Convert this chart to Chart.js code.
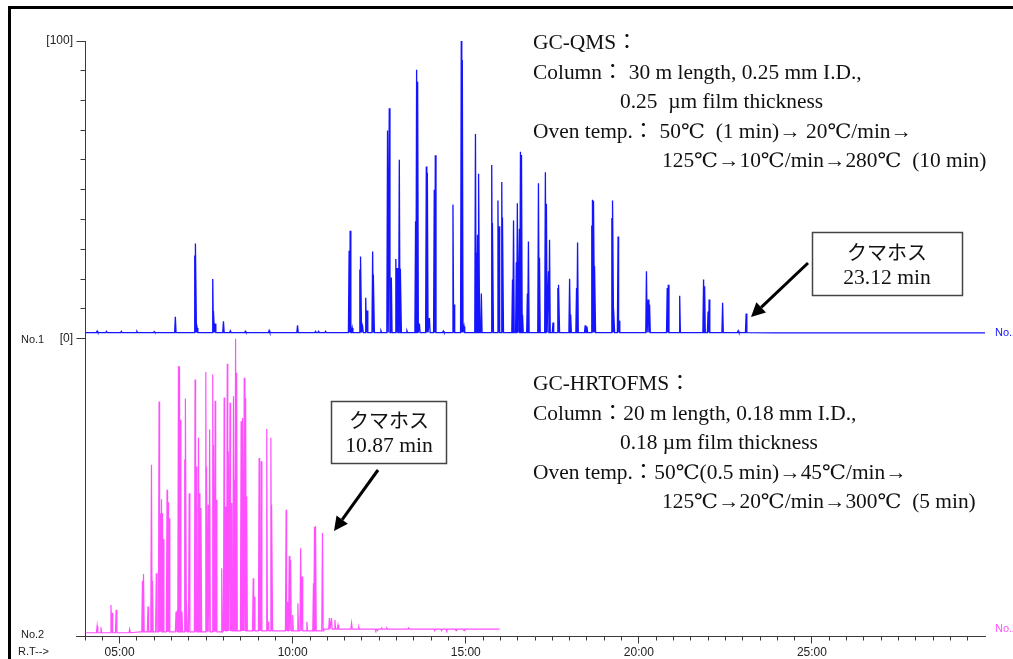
<!DOCTYPE html>
<html><head><meta charset="utf-8">
<script src="https://cdn.jsdelivr.net/npm/chart.js@4.4.1/dist/chart.umd.min.js"></script>
<style>html,body{margin:0;padding:0;background:#fff;overflow:hidden}canvas{display:block}</style>
</head><body>
<canvas id="c" width="1013" height="659"></canvas>
<script>
// ---------------- data (retention time in min, relative intensity %) ----------------
const xMajorTicks = [5, 10, 15, 20, 25];
const xTickLabels = ['05:00', '10:00', '15:00', '20:00', '25:00'];
const yTickValues = [0, 100];
const yTickLabels = ['[0]', '[100]'];
const seriesNames = ['No.1', 'No.2'];
const axisTitle = 'R.T-->';

// GC-QMS (No.1, blue)
const blueBaseTimes  = [4.02, 11.5, 24.0, 30.0];
const blueBaseLevels = [2.0, 2.0, 1.9, 1.9];
const bluePeakTimes = [4.35, 4.62, 5.05, 5.5, 6.0, 6.61, 7.17, 7.20, 7.24, 7.69, 7.72, 7.76,
  8.00, 8.20, 8.63, 9.32, 10.14, 10.66, 10.75, 10.95,
  11.63, 11.66, 11.72, 11.94, 11.97, 12.02, 12.11, 12.15, 12.31, 12.34, 12.55,
  12.74, 12.79, 12.85, 12.98, 13.02, 13.08, 13.12, 13.30, 13.55, 13.58, 13.61, 13.66,
  13.86, 13.89, 13.95, 14.09, 14.12, 14.35, 14.63, 14.66, 14.87, 14.90, 14.95,
  15.28, 15.31, 15.34, 15.38, 15.45, 15.75, 15.78, 15.93, 15.96, 16.04, 16.07,
  16.35, 16.38, 16.46, 16.49, 16.55, 16.57, 16.58, 16.61, 16.64, 16.78, 16.81,
  17.10, 17.13, 17.30, 17.33, 17.39, 17.42, 17.52, 17.66, 17.69, 18.00, 18.03,
  18.20, 18.23, 18.45, 18.50, 18.64, 18.67, 18.70, 18.73, 19.22, 19.25, 19.28,
  19.40, 19.43, 20.22, 20.27, 20.31, 20.82, 20.85, 21.18, 21.87, 21.90, 22.00, 22.03,
  22.42, 22.87, 23.10];
const bluePeakHeights = [2.5, 2.4, 2.4, 2.4, 2.3, 7.3, 27.9, 31.9, 3.5, 20.0, 9.2, 5.0,
  5.8, 2.6, 2.4, 2.7, 4.4, 2.4, 2.4, 2.4,
  29.5, 36.2, 3.5, 23.2, 27.6, 4.0, 13.7, 9.4, 29.2, 21.5, 2.6,
  69.9, 77.4, 20.5, 26.7, 23.7, 60.1, 23.4, 2.6, 39.4, 90.3, 86.3, 5.0,
  57.8, 55.7, 6.9, 50.0, 61.6, 2.5, 45.0, 11.4, 100, 93.6, 4.0,
  68.7, 28.8, 34.9, 55.4, 15.1, 58.3, 38.8, 46.4, 37.7, 52.6, 40.7,
  19.8, 39.7, 25.6, 45.5, 36.9, 27.6, 62.8, 61.7, 8.0, 15.1, 32.6,
  52.2, 27.1, 55.9, 45.3, 22.6, 33.2, 5.4, 17.0, 18.1, 20.1, 8.1,
  17.0, 32.3, 4.4, 4.0, 38.0, 46.6, 46.3, 24.3, 40.5, 46.4, 10.0,
  34.3, 6.0, 22.6, 13.1, 11.4, 17.0, 18.1, 14.4, 19.8, 17.6, 9.1, 13.1,
  12.0, 2.6, 8.4];

// GC-HRTOFMS (No.2, pink)
const pinkBaseTimes  = [4.02, 5.6, 8.0, 10.9, 15.98];
const pinkBaseLevels = [1.1, 1.4, 1.7, 2.3, 2.3];
const pinkPeakTimes = [4.35, 4.46, 4.75, 4.78, 4.90, 5.29, 5.66, 5.69, 5.82, 5.92, 5.95,
  6.06, 6.14, 6.17, 6.21, 6.24, 6.26, 6.37, 6.40, 6.43, 6.63, 6.67, 6.70, 6.73, 6.75,
  6.80, 6.88, 6.91, 6.94, 7.01, 7.18, 7.21, 7.28, 7.30, 7.35, 7.49, 7.52, 7.56, 7.60,
  7.69, 7.72, 7.76, 7.79, 7.95, 8.02, 8.05, 8.11, 8.14, 8.19, 8.22, 8.29, 8.32,
  8.35, 8.38, 8.51, 8.53, 8.56, 8.60, 8.64, 8.67, 8.86, 8.89, 9.03, 9.06, 9.09,
  9.25, 9.29, 9.37, 9.40, 9.81, 9.84, 9.90, 9.94, 10.00, 10.15, 10.23, 10.27, 10.41,
  10.60, 10.63, 10.66, 10.86, 11.06, 11.12, 11.22, 11.31, 11.70, 11.91,
  12.40, 12.45, 12.57, 12.72, 13.35, 14.10, 14.30, 14.45, 14.72, 14.95];
const pinkPeakHeights = [3.4, 2.9, 10.4, 7.8, 8.8, 2.3, 18.6, 20.8, 9.9, 57.6, 18.6,
  21.1, 78.8, 41.3, 46.0, 41.3, 32.6, 49.2, 45.0, 39.6, 8.2, 8.8, 90.7, 90.7, 72.7,
  8.2, 59.3, 79.8, 12.1, 48.0, 86.2, 57.0, 66.6, 48.0, 43.0, 88.7, 57.0, 44.1, 69.4,
  87.9, 64.3, 79.1, 45.8, 22.8, 80.2, 43.5, 91.5, 62.1, 78.4, 44.7, 80.6, 52.5,
  99.9, 88.5, 72.2, 24.5, 73.3, 86.8, 80.0, 46.9, 19.4, 13.2, 59.8, 11.1, 58.7,
  69.6, 4.8, 66.6, 44.1, 42.4, 11.5, 26.9, 25.6, 7.1, 11.0, 29.5, 20.0, 4.8,
  17.7, 36.6, 37.0, 34.6, 6.0, 6.0, 5.4, 3.7, 4.3, 3.0,
  1.8, 1.8, 2.7, 2.7, 2.7, 1.8, 1.8, 1.8, 1.8, 1.8];

// annotations
const qmsText = ['GC-QMS：', 'Column： 30 m length, 0.25 mm I.D.,', '0.25  µm film thickness',
  'Oven temp.： 50℃  (1 min)→ 20℃/min→', '125℃→10℃/min→280℃  (10 min)'];
const tofText = ['GC-HRTOFMS：', 'Column：20 m length, 0.18 mm I.D.,', '0.18 µm film thickness',
  'Oven temp.：50℃(0.5 min)→45℃/min→', '125℃→20℃/min→300℃  (5 min)'];
const compoundName = 'クマホス';
const qmsRT = 23.12;
const tofRT = 10.87;

// ---------------- build traces (spikes on a baseline) ----------------
function buildTrace(baseT, baseL, pkT, pkH) {
  const items = [];
  baseT.forEach((t, i) => items.push({ t, pts: [{ x: t, y: baseL[i] }] }));
  pkT.forEach((t, i) => {
    let lv = baseL[0];
    for (let k = 0; k < baseT.length; k++) if (baseT[k] <= t) lv = baseL[k];
    items.push({ t, pts: [{ x: t - 0.02, y: lv }, { x: t, y: pkH[i] }, { x: t + 0.02, y: lv }] });
  });
  items.sort((a, b) => a.t - b.t);
  return items.flatMap(it => it.pts);
}

const SANS = "'Liberation Sans', Arial, sans-serif";
const SERIF = "'Liberation Serif', 'DejaVu Serif', 'Noto Sans CJK JP', serif";
const JP = "'Noto Sans CJK JP', sans-serif";
const BLUE = '#1414ff';
const PINK = '#ff50ff';
const AXIS = '#3a3a3a';

function arrow(ctx, x1, y1, x2, y2) {
  const a = Math.atan2(y2 - y1, x2 - x1);
  const hl = 14, hw = 7;
  const bx = x2 - hl * Math.cos(a), by = y2 - hl * Math.sin(a);
  ctx.strokeStyle = '#000'; ctx.fillStyle = '#000'; ctx.lineWidth = 3;
  ctx.beginPath(); ctx.moveTo(x1, y1); ctx.lineTo(bx, by); ctx.stroke();
  ctx.beginPath(); ctx.moveTo(x2, y2);
  ctx.lineTo(bx + hw * Math.sin(a), by - hw * Math.cos(a));
  ctx.lineTo(bx - hw * Math.sin(a), by + hw * Math.cos(a));
  ctx.closePath(); ctx.fill();
}

function wideText(ctx, s, x, y, sx) {
  ctx.save(); ctx.translate(x, y); ctx.scale(sx, 1); ctx.fillText(s, 0, 0); ctx.restore();
}

const decor = {
  id: 'decor',
  afterDraw(chart) {
    const ctx = chart.ctx, xs = chart.scales.x, ys = chart.scales.y;
    ctx.save();
    // outer frame (left & top)
    ctx.fillStyle = '#000';
    ctx.fillRect(8, 6, 3, 653);
    ctx.fillRect(8, 6, 1005, 3);
    // x axis extension and tick marks
    ctx.strokeStyle = AXIS; ctx.lineWidth = 1;
    const ay = Math.round(xs.top - 0.5) + 0.5;
    ctx.beginPath(); ctx.moveTo(76, ay); ctx.lineTo(xs.left, ay); ctx.stroke();
    xs.ticks.forEach(t => {
      const px = Math.round(xs.getPixelForValue(t.value) - 0.5) + 0.5;
      const major = xMajorTicks.includes(t.value);
      ctx.beginPath(); ctx.moveTo(px, ay); ctx.lineTo(px, ay + (major ? 7 : 4)); ctx.stroke();
    });
    // y tick marks
    const ax = Math.round(ys.right - 0.5) + 0.5;
    ys.ticks.forEach(t => {
      const py = Math.round(ys.getPixelForValue(t.value) - 0.5) + 0.5;
      const major = yTickValues.includes(t.value);
      ctx.beginPath(); ctx.moveTo(ax - (major ? 9 : 5), py); ctx.lineTo(ax, py); ctx.stroke();
    });
    // side labels
    ctx.font = '11px ' + SANS; ctx.textBaseline = 'middle'; ctx.textAlign = 'left';
    ctx.fillStyle = '#222';
    ctx.fillText(seriesNames[0], 21, ys.getPixelForValue(0) + 1);
    ctx.fillText(seriesNames[1], 21, 635);
    ctx.fillText(axisTitle, 18, 652);
    ctx.fillStyle = BLUE;
    ctx.fillText(seriesNames[0], 995, ys.getPixelForValue(blueBaseLevels[blueBaseLevels.length - 1]));
    ctx.fillStyle = PINK;
    ctx.fillText(seriesNames[1], 995, chart.scales.y2.getPixelForValue(pinkBaseLevels[pinkBaseLevels.length - 1]));
    // method text blocks
    ctx.fillStyle = '#111'; ctx.font = '20px ' + SERIF;
    const indents = [533, 533, 620, 533, 662];
    qmsText.forEach((s, i) => wideText(ctx, s, indents[i], 44 + i * 29.5, 1.07));
    tofText.forEach((s, i) => wideText(ctx, s, indents[i], 385 + i * 29.5, 1.07));
    // compound boxes
    ctx.strokeStyle = '#444'; ctx.lineWidth = 1.5;
    ctx.strokeRect(812.5, 232.5, 150, 63);
    ctx.strokeRect(331.5, 401.5, 115, 62);
    ctx.textAlign = 'center'; ctx.fillStyle = '#111';
    ctx.font = '20px ' + JP;
    ctx.fillText(compoundName, 887, 252);
    ctx.fillText(compoundName, 389, 420);
    ctx.font = '20px ' + SERIF;
    wideText(ctx, qmsRT.toFixed(2) + ' min', 887, 279, 1.08);
    wideText(ctx, tofRT.toFixed(2) + ' min', 389, 447, 1.08);
    // arrows
    arrow(ctx, 808, 263, 751, 317);
    arrow(ctx, 378, 470, 334, 531);
    ctx.restore();
  }
};

new Chart(document.getElementById('c'), {
  type: 'line',
  data: {
    datasets: [
      { label: seriesNames[0], data: buildTrace(blueBaseTimes, blueBaseLevels, bluePeakTimes, bluePeakHeights),
        yAxisID: 'y', borderColor: BLUE, borderWidth: 1.3, pointRadius: 0, tension: 0, fill: false },
      { label: seriesNames[1], data: buildTrace(pinkBaseTimes, pinkBaseLevels, pinkPeakTimes, pinkPeakHeights),
        yAxisID: 'y2', borderColor: PINK, borderWidth: 1.2, pointRadius: 0, tension: 0, fill: false }
    ]
  },
  options: {
    responsive: false, animation: false, events: [],
    layout: { padding: { top: 41, right: 28, left: 0, bottom: 0 } },
    plugins: { legend: { display: false }, tooltip: { enabled: false } },
    scales: {
      x: {
        type: 'linear', min: 4, max: 30,
        grid: { display: false, drawTicks: false },
        border: { display: true, color: AXIS, width: 1 },
        ticks: {
          stepSize: 0.5, maxTicksLimit: 1000, autoSkip: false, maxRotation: 0, minRotation: 0,
          padding: 9, color: '#222', font: { family: SANS, size: 12 },
          callback: v => { const i = xMajorTicks.indexOf(v); return i >= 0 ? xTickLabels[i] : ''; }
        },
        afterBuildTicks: s => { s.ticks = s.ticks.filter(t => t.value < 30); },
        afterFit: s => { s.height = 23; }
      },
      y: {
        position: 'left', min: -100, max: 100,
        grid: { display: false, drawTicks: false },
        border: { display: true, color: AXIS, width: 1 },
        ticks: {
          stepSize: 10, autoSkip: false, padding: 12, color: '#222', font: { family: SANS, size: 12 },
          callback: v => { const i = yTickValues.indexOf(v); return i >= 0 ? yTickLabels[i] : ''; }
        },
        afterBuildTicks: s => { s.ticks = s.ticks.filter(t => t.value >= 0 && t.value <= 100); },
        afterFit: s => { s.width = 85; }
      },
      y2: { display: false, min: 0, max: 200 }
    }
  },
  plugins: [decor]
});
</script>
</body></html>
